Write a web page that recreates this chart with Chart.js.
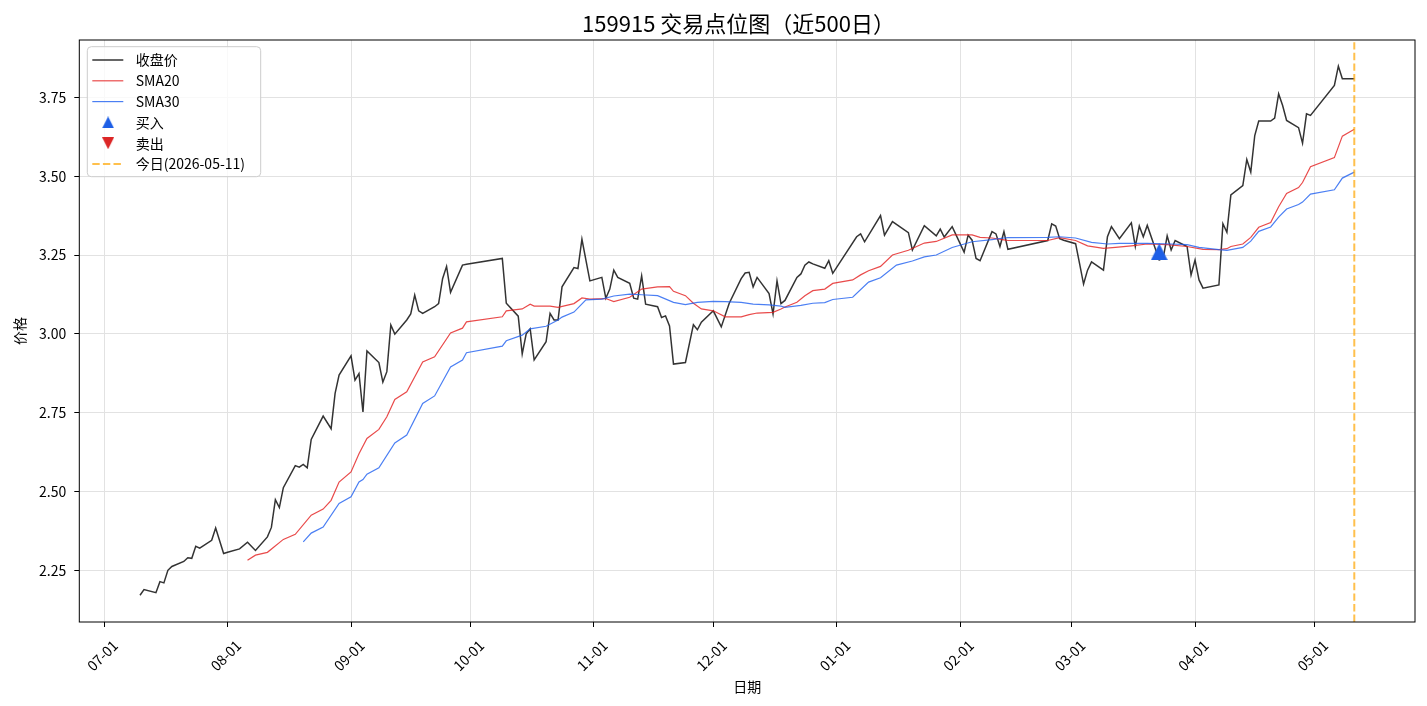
<!DOCTYPE html>
<html lang="zh">
<head>
<meta charset="utf-8">
<title>159915 交易点位图</title>
<script src="https://cdn.jsdelivr.net/npm/chart.js@4.4.1/dist/chart.umd.min.js"></script>
<style>
  html, body { margin: 0; padding: 0; background: #fff; }
  #wrap { width: 1427px; height: 706px; }
</style>
</head>
<body>
<div id="wrap"><canvas id="priceChart"></canvas></div>
<script>
// ---- data ----
const closeDates = [
  '2025-07-10','2025-07-11','2025-07-14','2025-07-15','2025-07-16','2025-07-17','2025-07-18',
  '2025-07-21','2025-07-22','2025-07-23','2025-07-24','2025-07-25','2025-07-28','2025-07-29',
  '2025-07-31','2025-08-01','2025-08-04','2025-08-06','2025-08-08','2025-08-11','2025-08-12',
  '2025-08-13','2025-08-14','2025-08-15','2025-08-18','2025-08-19','2025-08-20','2025-08-21',
  '2025-08-22','2025-08-25','2025-08-27','2025-08-28','2025-08-29','2025-09-01','2025-09-02',
  '2025-09-03','2025-09-04','2025-09-05','2025-09-08','2025-09-09','2025-09-10','2025-09-11',
  '2025-09-12','2025-09-15','2025-09-16','2025-09-17','2025-09-18','2025-09-19','2025-09-22',
  '2025-09-23','2025-09-24','2025-09-25','2025-09-26','2025-09-29','2025-09-30','2025-10-09',
  '2025-10-10','2025-10-13','2025-10-14','2025-10-15','2025-10-16','2025-10-17','2025-10-20',
  '2025-10-21','2025-10-22','2025-10-23','2025-10-24','2025-10-27','2025-10-28','2025-10-29',
  '2025-10-31','2025-11-03','2025-11-04','2025-11-05','2025-11-06','2025-11-07','2025-11-10',
  '2025-11-11','2025-11-12','2025-11-13','2025-11-14','2025-11-17','2025-11-18','2025-11-19',
  '2025-11-20','2025-11-21','2025-11-24','2025-11-26','2025-11-27','2025-11-28','2025-12-01',
  '2025-12-03','2025-12-05','2025-12-08','2025-12-09','2025-12-10','2025-12-11','2025-12-12',
  '2025-12-15','2025-12-16','2025-12-17','2025-12-18','2025-12-19','2025-12-22','2025-12-23',
  '2025-12-24','2025-12-25','2025-12-26','2025-12-29','2025-12-30','2025-12-31','2026-01-06',
  '2026-01-07','2026-01-08','2026-01-12','2026-01-13','2026-01-15','2026-01-19','2026-01-20',
  '2026-01-23','2026-01-26','2026-01-27','2026-01-28','2026-01-30','2026-02-02','2026-02-03',
  '2026-02-04','2026-02-05','2026-02-06','2026-02-09','2026-02-10','2026-02-11','2026-02-12',
  '2026-02-13','2026-02-23','2026-02-24','2026-02-25','2026-02-26','2026-02-27','2026-03-02',
  '2026-03-03','2026-03-04','2026-03-05','2026-03-06','2026-03-09','2026-03-10','2026-03-11',
  '2026-03-13','2026-03-16','2026-03-17','2026-03-18','2026-03-19','2026-03-20','2026-03-23',
  '2026-03-24','2026-03-25','2026-03-26','2026-03-27','2026-03-30','2026-03-31','2026-04-01',
  '2026-04-02','2026-04-03','2026-04-07','2026-04-08','2026-04-09','2026-04-10','2026-04-13',
  '2026-04-14','2026-04-15','2026-04-16','2026-04-17','2026-04-20','2026-04-21','2026-04-22',
  '2026-04-23','2026-04-24','2026-04-27','2026-04-28','2026-04-29','2026-04-30','2026-05-06',
  '2026-05-07','2026-05-08','2026-05-11'
];
const closeValues = [
  2.171, 2.189, 2.179, 2.214, 2.210, 2.250, 2.262,
  2.278, 2.290, 2.288, 2.326, 2.320, 2.345, 2.384,
  2.303, 2.307, 2.318, 2.339, 2.313, 2.356, 2.386,
  2.474, 2.449, 2.512, 2.582, 2.577, 2.586, 2.575,
  2.665, 2.739, 2.699, 2.811, 2.869, 2.930, 2.853,
  2.874, 2.752, 2.946, 2.909, 2.847, 2.880, 3.028,
  2.999, 3.044, 3.063, 3.123, 3.073, 3.065, 3.086,
  3.096, 3.175, 3.214, 3.132, 3.218, 3.221, 3.239,
  3.097, 3.056, 2.936, 3.000, 3.016, 2.917, 2.975,
  3.065, 3.044, 3.044, 3.149, 3.210, 3.207, 3.300,
  3.168, 3.179, 3.113, 3.142, 3.202, 3.179, 3.160,
  3.113, 3.110, 3.184, 3.094, 3.086, 3.052, 3.057,
  3.025, 2.904, 2.909, 3.029, 3.013, 3.037, 3.073,
  3.022, 3.097, 3.175, 3.193, 3.195, 3.149, 3.179,
  3.128, 3.063, 3.168, 3.096, 3.106, 3.179, 3.190,
  3.218, 3.228, 3.222, 3.208, 3.232, 3.192, 3.308,
  3.317, 3.292, 3.375, 3.313, 3.356, 3.321, 3.266,
  3.343, 3.311, 3.332, 3.307, 3.340, 3.259, 3.313,
  3.297, 3.239, 3.232, 3.324, 3.317, 3.277, 3.324,
  3.268, 3.296, 3.349, 3.342, 3.302, 3.297, 3.286,
  3.223, 3.158, 3.202, 3.228, 3.202, 3.308, 3.340,
  3.302, 3.352, 3.277, 3.342, 3.308, 3.344, 3.234,
  3.240, 3.311, 3.266, 3.296, 3.277, 3.187, 3.234,
  3.171, 3.145, 3.155, 3.349, 3.322, 3.441, 3.470,
  3.553, 3.513, 3.629, 3.675, 3.675, 3.684, 3.761,
  3.724, 3.677, 3.654, 3.605, 3.698, 3.693, 3.788,
  3.849, 3.809, 3.809
];

const sma20Dates = [
  '2025-08-06','2025-08-08','2025-08-11','2025-08-15','2025-08-18','2025-08-22','2025-08-25',
  '2025-08-27','2025-08-29','2025-09-01','2025-09-03','2025-09-05','2025-09-08','2025-09-10',
  '2025-09-12','2025-09-15','2025-09-19','2025-09-22','2025-09-26','2025-09-29','2025-09-30',
  '2025-10-09','2025-10-10','2025-10-14','2025-10-16','2025-10-17','2025-10-21','2025-10-23',
  '2025-10-27','2025-10-29','2025-10-31','2025-11-04','2025-11-06','2025-11-10','2025-11-13',
  '2025-11-17','2025-11-20','2025-11-21','2025-11-24','2025-11-26','2025-11-28','2025-12-01',
  '2025-12-04','2025-12-08','2025-12-10','2025-12-12','2025-12-16','2025-12-18','2025-12-19',
  '2025-12-22','2025-12-24','2025-12-26','2025-12-29','2025-12-31','2026-01-05','2026-01-07',
  '2026-01-09','2026-01-12','2026-01-15','2026-01-19','2026-01-23','2026-01-26','2026-01-30',
  '2026-02-04','2026-02-06','2026-02-09','2026-02-12','2026-02-13','2026-02-23','2026-02-26',
  '2026-03-02','2026-03-05','2026-03-09','2026-03-12','2026-03-16','2026-03-20','2026-03-25',
  '2026-03-30','2026-04-03','2026-04-07','2026-04-09','2026-04-10','2026-04-13','2026-04-15',
  '2026-04-17','2026-04-20','2026-04-22','2026-04-24','2026-04-27','2026-04-28','2026-04-30',
  '2026-05-06','2026-05-08','2026-05-11'
];
const sma20Values = [
  2.282, 2.298, 2.307, 2.348, 2.364, 2.425, 2.444,
  2.472, 2.530, 2.562, 2.620, 2.668, 2.697, 2.737,
  2.792, 2.816, 2.911, 2.927, 3.003, 3.018, 3.038,
  3.054, 3.073, 3.079, 3.094, 3.088, 3.088, 3.084,
  3.096, 3.114, 3.110, 3.112, 3.102, 3.116, 3.142,
  3.149, 3.150, 3.135, 3.121, 3.097, 3.079, 3.073,
  3.054, 3.054, 3.061, 3.066, 3.068, 3.079, 3.085,
  3.100, 3.121, 3.137, 3.142, 3.160, 3.171, 3.187,
  3.200, 3.214, 3.250, 3.265, 3.288, 3.293, 3.314,
  3.314, 3.306, 3.304, 3.298, 3.296, 3.296, 3.305,
  3.296, 3.279, 3.271, 3.274, 3.279, 3.285, 3.283,
  3.277, 3.268, 3.267, 3.270, 3.277, 3.285, 3.306,
  3.338, 3.353, 3.403, 3.445, 3.464, 3.480, 3.530,
  3.559, 3.627, 3.649
];

const sma30Dates = [
  '2025-08-20','2025-08-22','2025-08-25','2025-08-29','2025-09-01','2025-09-03','2025-09-04',
  '2025-09-05','2025-09-08','2025-09-12','2025-09-15','2025-09-19','2025-09-22','2025-09-26',
  '2025-09-29','2025-09-30','2025-10-09','2025-10-10','2025-10-14','2025-10-16','2025-10-20',
  '2025-10-23','2025-10-24','2025-10-27','2025-10-30','2025-11-03','2025-11-06','2025-11-10',
  '2025-11-13','2025-11-17','2025-11-21','2025-11-24','2025-11-27','2025-12-01','2025-12-04',
  '2025-12-08','2025-12-11','2025-12-15','2025-12-18','2025-12-19','2025-12-23','2025-12-26',
  '2025-12-29','2025-12-31','2026-01-05','2026-01-09','2026-01-12','2026-01-16','2026-01-20',
  '2026-01-23','2026-01-26','2026-01-30','2026-02-04','2026-02-09','2026-02-12','2026-02-13',
  '2026-02-23','2026-02-26','2026-03-02','2026-03-06','2026-03-10','2026-03-13','2026-03-20',
  '2026-03-26','2026-03-30','2026-04-02','2026-04-07','2026-04-09','2026-04-13','2026-04-15',
  '2026-04-17','2026-04-20','2026-04-22','2026-04-24','2026-04-27','2026-04-28','2026-04-30',
  '2026-05-06','2026-05-08','2026-05-11'
];
const sma30Values = [
  2.340, 2.368, 2.387, 2.462, 2.483, 2.530, 2.538,
  2.555, 2.575, 2.654, 2.679, 2.779, 2.803, 2.895,
  2.917, 2.940, 2.961, 2.978, 2.996, 3.016, 3.024,
  3.044, 3.053, 3.069, 3.108, 3.110, 3.120, 3.126,
  3.124, 3.121, 3.100, 3.093, 3.100, 3.103, 3.102,
  3.100, 3.094, 3.092, 3.088, 3.084, 3.090, 3.097,
  3.099, 3.109, 3.116, 3.164, 3.178, 3.218, 3.231,
  3.244, 3.250, 3.274, 3.292, 3.299, 3.304, 3.305,
  3.306, 3.308, 3.304, 3.290, 3.285, 3.287, 3.287,
  3.285, 3.283, 3.274, 3.267, 3.265, 3.274, 3.294,
  3.325, 3.339, 3.370, 3.396, 3.410, 3.418, 3.443,
  3.457, 3.494, 3.513
];

const buyDates = ['2026-03-23'];
const buyPrices = [3.26];
const sellDates = [];
const sellPrices = [];
const todayDate = '2026-05-11';

const monthTicks = ['2025-07-01','2025-08-01','2025-09-01','2025-10-01','2025-11-01','2025-12-01',
                    '2026-01-01','2026-02-01','2026-03-01','2026-04-01','2026-05-01'];
const yTicks = [2.25, 2.50, 2.75, 3.00, 3.25, 3.50, 3.75];
const yLimits = [2.086, 3.932];
const titleText = '159915 交易点位图（近500日）';

// ---- helpers ----
function dayNum(s) {
    const [y, m, d] = s.split('-').map(Number);
    return Date.UTC(y, m - 1, d) / 86400000;
}

function mmdd(v) {
    const d = new Date(Math.round(v) * 86400000);
    return String(d.getUTCMonth() + 1).padStart(2, '0') + '-' + String(d.getUTCDate()).padStart(2, '0');
}

function toPoints(dates, values) {
    return dates.map((s, i) => ({ x: dayNum(s), y: values[i] }));
}

// matplotlib style '^' / 'v' marker
function triangleIcon(size, color, pointDown) {
    const c = document.createElement('canvas');
    c.width = c.height = size;
    const g = c.getContext('2d');
    g.fillStyle = color;
    g.beginPath();
    if (pointDown) {
        g.moveTo(0, 0); g.lineTo(size, 0); g.lineTo(size / 2, size);
    } else {
        g.moveTo(size / 2, 0); g.lineTo(size, size); g.lineTo(0, size);
    }
    g.closePath();
    g.fill();
    return c;
}

const BUY_COLOR = '#1e5fe6';
const SELL_COLOR = '#dc2626';
const FONT = '"Noto Sans CJK SC", "Noto Sans", sans-serif';

// title over the plot, frame round the plot and the legend box inside it
const frameAndLegend = {
    id: 'frameAndLegend',
    afterDatasetsDraw(chart) {
        const ctx = chart.ctx;
        const a = chart.chartArea;
        ctx.save();
        ctx.strokeStyle = '#000';
        ctx.lineWidth = 1;
        ctx.setLineDash([]);
        ctx.strokeRect(a.left, a.top, a.right - a.left, a.bottom - a.top);

        ctx.fillStyle = '#000';
        ctx.font = '22px ' + FONT;
        ctx.textAlign = 'center';
        ctx.textBaseline = 'middle';
        ctx.fillText(titleText, 738.5, a.top - 16);

        const x0 = a.left + 8, y0 = a.top + 6.7, w = 173.4, h = 130;
        const r = 4;
        ctx.beginPath();
        ctx.moveTo(x0 + r, y0);
        ctx.arcTo(x0 + w, y0, x0 + w, y0 + h, r);
        ctx.arcTo(x0 + w, y0 + h, x0, y0 + h, r);
        ctx.arcTo(x0, y0 + h, x0, y0, r);
        ctx.arcTo(x0, y0, x0 + w, y0, r);
        ctx.closePath();
        ctx.fillStyle = 'rgba(255,255,255,0.8)';
        ctx.fill();
        ctx.strokeStyle = '#cccccc';
        ctx.stroke();

        chart.data.datasets.forEach((ds, i) => {
            const cy = y0 + 13.3 + i * 20.8;
            if (ds.showLine === false) {
                const icon = ds.legendIcon;
                ctx.drawImage(icon, x0 + 20.8 - icon.width / 2, cy - icon.height / 2);
            } else {
                ctx.beginPath();
                ctx.setLineDash(ds.borderDash || []);
                ctx.strokeStyle = ds.borderColor;
                ctx.lineWidth = ds.borderWidth;
                ctx.moveTo(x0 + 5, cy);
                ctx.lineTo(x0 + 36, cy);
                ctx.stroke();
                ctx.setLineDash([]);
            }
            ctx.fillStyle = '#000';
            ctx.font = '14px ' + FONT;
            ctx.textBaseline = 'middle';
            ctx.textAlign = 'left';
            ctx.fillText(ds.label, x0 + 48.4, cy);
        });
        ctx.restore();
    }
};

document.addEventListener("DOMContentLoaded", function () {
    initPriceChart();
});

function initPriceChart() {
    Chart.defaults.font.family = FONT;
    Chart.defaults.color = '#000';

    const firstDay = dayNum(closeDates[0]);
    const lastDay = dayNum(closeDates[closeDates.length - 1]);
    const span = lastDay - firstDay;

    const datasets = [
        {
            label: '收盘价',
            data: toPoints(closeDates, closeValues),
            borderColor: 'rgba(0,0,0,0.8)',
            borderWidth: 1.5,
            order: 6
        },
        {
            label: 'SMA20',
            data: toPoints(sma20Dates, sma20Values),
            borderColor: 'rgba(228,30,30,0.8)',
            borderWidth: 1.2,
            order: 5
        },
        {
            label: 'SMA30',
            data: toPoints(sma30Dates, sma30Values),
            borderColor: 'rgba(30,95,240,0.8)',
            borderWidth: 1.2,
            order: 4
        },
        {
            label: '买入',
            data: toPoints(buyDates, buyPrices),
            showLine: false,
            pointStyle: triangleIcon(17, BUY_COLOR, false),
            legendIcon: triangleIcon(12, BUY_COLOR, false),
            pointRadius: 9,
            order: 1
        },
        {
            label: '卖出',
            data: toPoints(sellDates, sellPrices),
            showLine: false,
            pointStyle: triangleIcon(17, SELL_COLOR, true),
            legendIcon: triangleIcon(12, SELL_COLOR, true),
            pointRadius: 9,
            order: 1
        },
        {
            label: '今日(' + todayDate + ')',
            data: [{ x: dayNum(todayDate), y: yLimits[0] }, { x: dayNum(todayDate), y: yLimits[1] }],
            borderColor: 'rgba(255,165,0,0.7)',
            borderWidth: 2,
            borderDash: [7.4, 3.2],
            order: 2
        }
    ];

    const gridStyle = { color: '#e2e2e2', lineWidth: 1, tickColor: '#000', tickLength: 5, tickWidth: 1 };

    const options = {
        responsive: true,
        maintainAspectRatio: false,
        animation: false,
        layout: { padding: { left: 0, right: 12, top: 40, bottom: 0 } },
        elements: {
            line: { tension: 0, fill: false },
            point: { radius: 0, hoverRadius: 0 }
        },
        plugins: {
            legend: { display: false },
            tooltip: { enabled: false },
            title: { display: false }
        },
        scales: {
            x: {
                type: 'linear',
                min: firstDay - 0.05 * span,
                max: lastDay + 0.05 * span,
                afterBuildTicks: function (axis) {
                    axis.ticks = monthTicks.map(s => ({ value: dayNum(s) }));
                },
                afterFit: function (scale) { scale.height = 84; },
                border: { display: false },
                grid: gridStyle,
                ticks: {
                    autoSkip: false,
                    minRotation: 45,
                    maxRotation: 45,
                    padding: 10,
                    labelOffset: 11,
                    font: { size: 14 },
                    callback: v => mmdd(v)
                },
                title: { display: true, text: '日期', font: { size: 14 }, padding: { top: 0, bottom: 10.6 } }
            },
            y: {
                min: yLimits[0],
                max: yLimits[1],
                afterBuildTicks: function (axis) {
                    axis.ticks = yTicks.map(v => ({ value: v }));
                },
                afterFit: function (scale) { scale.width = 79.3; },
                border: { display: false },
                grid: gridStyle,
                ticks: {
                    padding: 8,
                    font: { size: 14 },
                    callback: v => v.toFixed(2)
                },
                title: { display: true, text: '价格', font: { size: 14 }, padding: { top: 11.6, bottom: 0 } }
            }
        }
    };

    const ctx = document.getElementById('priceChart').getContext('2d');
    new Chart(ctx, {
        type: 'line',
        data: { datasets: datasets },
        options: options,
        plugins: [frameAndLegend]
    });
}
</script>
</body>
</html>
